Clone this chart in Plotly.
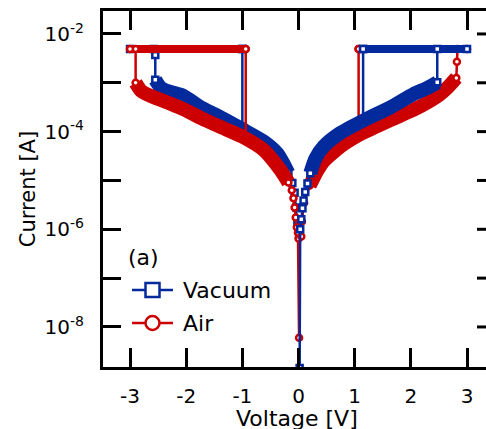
import math
import plotly.graph_objects as go

# ---------------- data ----------------
compliance = 4.9e-3

# Vacuum, positive sweep
vac_pos_v = [0.21, 0.30, 0.45, 0.74, 1.16, 1.64, 2.05, 2.30, 2.47]
vac_pos_i = [1.41e-5, 2.8e-5, 5.0e-5, 9.3e-5, 1.7e-4, 3.16e-4, 5.9e-4, 7.9e-4, 1.02e-3]
vac_pos_zero_v = [0.02, 0.03, 0.05, 0.07, 0.09, 0.12, 0.16, 0.21]
vac_pos_zero_i = [1.45e-9, 1.0e-6, 1.6e-6, 2.7e-6, 3.9e-6, 5.8e-6, 8.7e-6, 1.41e-5]
vac_pos_set_v = [2.47, 2.47]
vac_pos_set_i = [1.02e-3, compliance]
vac_pos_bar_v = [1.15, 3.0]
vac_pos_reset_v = [1.15, 1.15]
vac_pos_reset_i = [compliance, 1.86e-4]

# Vacuum, negative sweep
vac_neg_v = [-0.18, -0.37, -0.62, -1.0, -1.4, -1.74, -2.05, -2.30, -2.45, -2.55]
vac_neg_i = [1.41e-5, 3.5e-5, 6.3e-5, 1.12e-4, 2.0e-4, 3.16e-4, 5.4e-4, 6.6e-4, 7.9e-4, 1.15e-3]
vac_neg_zero_v = [-0.02, -0.04, -0.07, -0.11, -0.18]
vac_neg_zero_i = [1.26e-6, 2.8e-6, 5.6e-6, 8.9e-6, 1.41e-5]
vac_neg_set_v = [-2.55, -2.55, -2.58]
vac_neg_set_i = [1.15e-3, 3.7e-3, compliance]
vac_neg_bar_v = [-3.0, -1.0]
vac_neg_reset_v = [-1.0, -1.0]
vac_neg_reset_i = [compliance, 1.0e-4]

# Air, positive sweep
air_pos_v = [0.20, 0.34, 0.45, 0.75, 1.10, 1.64, 2.05, 2.30, 2.50, 2.65, 2.81]
air_pos_i = [7.9e-6, 1.62e-5, 2.5e-5, 5.0e-5, 8.9e-5, 1.74e-4, 2.8e-4, 4.0e-4, 5.6e-4, 7.9e-4, 1.26e-3]
air_pos_zero_v = [0.05, 0.06, 0.10, 0.20]
air_pos_zero_i = [7.1e-7, 1.45e-6, 3.5e-6, 7.9e-6]
air_pos_set_v = [2.81, 2.82, 2.83]
air_pos_set_i = [1.26e-3, 2.7e-3, compliance]
air_pos_bar_v = [1.07, 3.0]
air_pos_reset_v = [1.07, 1.07]
air_pos_reset_i = [compliance, 1.5e-4]

# Air, negative sweep
air_neg_v = [-0.18, -0.32, -0.62, -1.0, -1.4, -1.74, -2.05, -2.30, -2.60, -2.80, -2.90]
air_neg_i = [9.1e-6, 1.62e-5, 4.2e-5, 7.9e-5, 1.26e-4, 1.9e-4, 2.9e-4, 3.8e-4, 5.2e-4, 6.8e-4, 1.0e-3]
air_neg_zero_v = [0.01, 0.0, -0.01, -0.03, -0.05, -0.07, -0.09, -0.12, -0.18]
air_neg_zero_i = [6.0e-9, 6.5e-7, 8.5e-7, 1.1e-6, 1.74e-6, 2.8e-6, 4.3e-6, 6.3e-6, 9.1e-6]
air_neg_set_v = [-2.90, -2.90]
air_neg_set_i = [1.0e-3, compliance]
air_neg_bar_v = [-3.0, -0.94]
air_neg_reset_v = [-0.94, -0.94]
air_neg_reset_i = [compliance, 6.6e-5]

x_ticks = [-3, -2, -1, 0, 1, 2, 3]
x_ticktext = ["-3", "-2", "-1", "0", "1", "2", "3"]
y_major = [1e-2, 1e-4, 1e-6, 1e-8]
y_ticktext = ["10<sup>-2</sup>", "10<sup>-4</sup>", "10<sup>-6</sup>", "10<sup>-8</sup>"]
y_minor = [1e-3, 1e-5, 1e-7]

BLUE = "#032a9c"
RED = "#cc0000"
FONT = "DejaVu Sans"

fig = go.Figure()


def add_group(color, symbol, band_v, band_i, zero_v, zero_i, set_v, set_i,
              bar_v, reset_v, reset_i):
    fig.add_trace(go.Scatter(x=band_v, y=band_i, mode="lines",
                             line=dict(color=color, width=14, shape="spline", smoothing=0.6),
                             showlegend=False, hoverinfo="skip"))
    fig.add_trace(go.Scatter(x=bar_v, y=[compliance] * len(bar_v), mode="lines",
                             line=dict(color=color, width=8),
                             showlegend=False, hoverinfo="skip"))
    for xs, ys in ((zero_v, zero_i), (set_v, set_i), (reset_v, reset_i)):
        fig.add_trace(go.Scatter(x=xs, y=ys, mode="lines",
                                 line=dict(color=color, width=2.5),
                                 showlegend=False, hoverinfo="skip"))
    mx = list(zero_v) + list(set_v) + [reset_v[0], bar_v[0], bar_v[-1]]
    my = list(zero_i) + list(set_i) + [reset_i[0], compliance, compliance]
    fig.add_trace(go.Scatter(x=mx, y=my, mode="markers",
                             marker=dict(symbol=symbol, size=6, color="white",
                                         line=dict(color=color, width=2.5)),
                             showlegend=False, hoverinfo="skip"))


add_group(BLUE, "square", vac_neg_v, vac_neg_i, vac_neg_zero_v, vac_neg_zero_i,
          vac_neg_set_v, vac_neg_set_i, vac_neg_bar_v, vac_neg_reset_v, vac_neg_reset_i)
add_group(RED, "circle", air_neg_v, air_neg_i, air_neg_zero_v, air_neg_zero_i,
          air_neg_set_v, air_neg_set_i, air_neg_bar_v, air_neg_reset_v, air_neg_reset_i)
add_group(RED, "circle", air_pos_v, air_pos_i, air_pos_zero_v, air_pos_zero_i,
          air_pos_set_v, air_pos_set_i, air_pos_bar_v, air_pos_reset_v, air_pos_reset_i)
add_group(BLUE, "square", vac_pos_v, vac_pos_i, vac_pos_zero_v, vac_pos_zero_i,
          vac_pos_set_v, vac_pos_set_i, vac_pos_bar_v, vac_pos_reset_v, vac_pos_reset_i)

# ---------------- layout ----------------
W, H = 486, 429
ML, MR, MT, MB = 103, 0, 11, 62
PW, PH = W - ML - MR, H - MT - MB
Y_RANGE = [-8.82, -1.53]


def px_x(p):
    return (p - ML) / PW


def px_y(p):
    return (H - MB - p) / PH


shapes = []
for t in y_major + y_minor:
    yp = (math.log10(t) - Y_RANGE[0]) / (Y_RANGE[1] - Y_RANGE[0])
    shapes.append(dict(type="line", xref="paper", yref="paper",
                       x0=1 - 9 / PW, x1=1.0, y0=yp, y1=yp,
                       line=dict(color="black", width=3)))

leg_rows = [("Vacuum", BLUE, "rect", 290), ("Air", RED, "circle", 323)]
annotations = []
for name, col, shp, ypx in leg_rows:
    yp = px_y(ypx)
    shapes.append(dict(type="line", xref="paper", yref="paper",
                       x0=px_x(132), x1=px_x(173), y0=yp, y1=yp,
                       line=dict(color=col, width=2.5)))
    shapes.append(dict(type=shp, xref="paper", yref="paper",
                       xsizemode="pixel", ysizemode="pixel",
                       xanchor=px_x(152.5), yanchor=yp,
                       x0=-7, x1=7, y0=-7, y1=7,
                       fillcolor="white", line=dict(color=col, width=2.5)))
    annotations.append(dict(text=name, xref="paper", yref="paper",
                            x=px_x(181), y=yp, xanchor="left", yanchor="middle",
                            showarrow=False, font=dict(size=22, color="black", family=FONT)))

annotations.append(dict(text="(a)", xref="paper", yref="paper",
                        x=px_x(126), y=px_y(257), xanchor="left", yanchor="middle",
                        showarrow=False, font=dict(size=22, color="black", family=FONT)))

# x-axis title (placed as an annotation so it can sit at the picture's bottom edge)
annotations.append(dict(text="Voltage [V]", xref="paper", yref="paper",
                        x=px_x(297), y=px_y(418), xanchor="center", yanchor="middle",
                        showarrow=False, font=dict(size=22, color="black", family=FONT)))

fig.update_layout(
    width=W, height=H,
    margin=dict(l=ML, r=MR, t=MT, b=MB, pad=0, autoexpand=False),
    paper_bgcolor="white", plot_bgcolor="white",
    font=dict(family=FONT, size=20, color="black"),
    showlegend=False,
    shapes=shapes,
    annotations=annotations,
    xaxis=dict(range=[-3.481, 3.338], tickvals=x_ticks, ticktext=x_ticktext,
               ticks="inside", ticklen=19, tickwidth=3, tickcolor="black",
               showline=True, linewidth=3, linecolor="black", mirror="ticks",
               showgrid=False, zeroline=False, automargin=False,
               tickfont=dict(size=20), ticklabelstandoff=9),
    yaxis=dict(type="log", range=Y_RANGE, tickvals=y_major, ticktext=y_ticktext,
               ticks="inside", ticklen=18, tickwidth=3, tickcolor="black",
               minor=dict(tickvals=y_minor, ticks="inside", ticklen=18,
                          tickwidth=3, tickcolor="black", showgrid=False),
               showline=True, linewidth=3, linecolor="black", mirror=False,
               showgrid=False, zeroline=False, automargin=False,
               tickfont=dict(size=20), ticklabelstandoff=12,
               title=dict(text="Current [A]", font=dict(size=21), standoff=4)),
)

fig.write_html("out.html", config={"displayModeBar": False},
               post_script="document.body.style.margin='0';document.body.style.overflow='hidden';")
